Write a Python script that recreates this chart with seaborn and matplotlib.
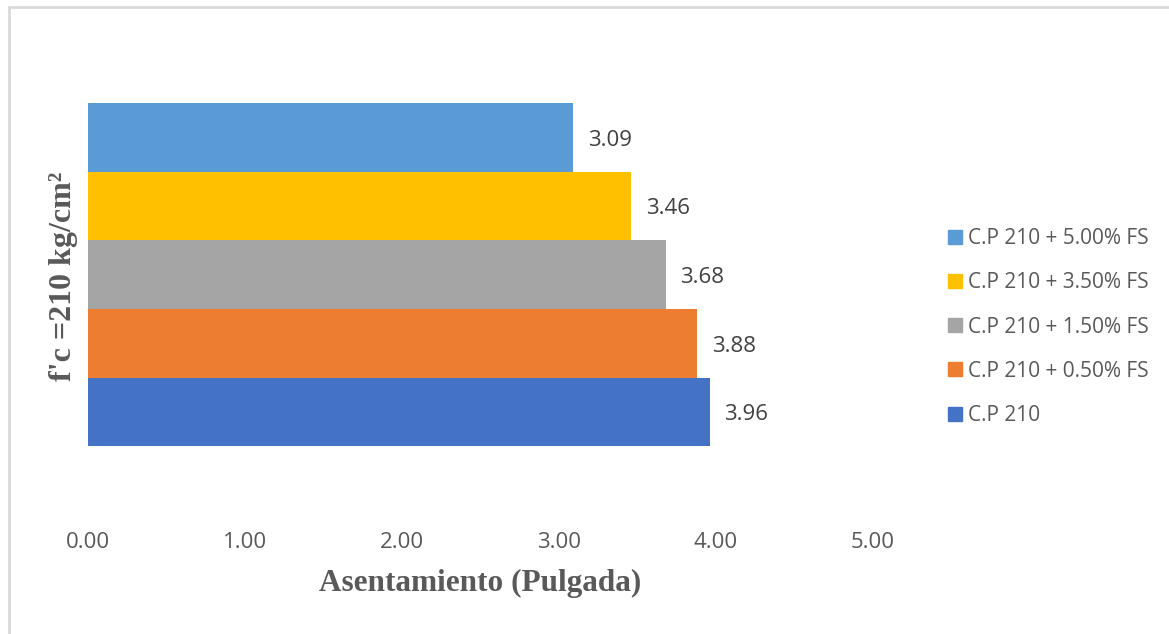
import matplotlib
matplotlib.use("Agg")
import matplotlib.pyplot as plt
from matplotlib.lines import Line2D
import pandas as pd
import seaborn as sns

# Slump results per mix (inches)
series = [
    "C.P 210 + 5.00% FS",
    "C.P 210 + 3.50% FS",
    "C.P 210 + 1.50% FS",
    "C.P 210 + 0.50% FS",
    "C.P 210",
]
values = [3.09, 3.46, 3.68, 3.88, 3.96]
colors = ["#5B9BD5", "#FFC000", "#A5A5A5", "#ED7D31", "#4472C4"]
category = "f'c =210 kg/cm²"
xticks = [0, 1, 2, 3, 4, 5]

df = pd.DataFrame({"grupo": [category] * len(series), "serie": series, "valor": values})

sns.set_theme(style="white")
plt.rcParams["font.family"] = ["Open Sans", "DejaVu Sans"]

W, H = 1169, 634
fig = plt.figure(figsize=(W / 100, H / 100), dpi=100)
fig.patch.set_facecolor("white")

# Axes placement in pixels
x0, x1 = 88, 873
y_top, y_bot = 40, 520
ax = fig.add_axes([x0 / W, 1 - y_bot / H, (x1 - x0) / W, (y_bot - y_top) / H])

sns.barplot(
    data=df, y="grupo", x="valor", hue="serie", hue_order=series,
    palette=colors, orient="h", width=0.8, saturation=1, linewidth=0,
    ax=ax, legend=False, errorbar=None,
)

ax.set_xlim(0, 5)
# Single category centred at 0; limits chosen so the bar group sits mid-plot
ax.set_ylim(0.572, -0.547)
ax.set_xticks(xticks)
ax.set_xticklabels([f"{t:.2f}" for t in xticks], fontsize=16, color="#595959")
ax.set_yticks([])
ax.tick_params(axis="x", length=0, pad=9)
for s in ax.spines.values():
    s.set_visible(False)

ax.set_xlabel("Asentamiento (Pulgada)", family="Liberation Serif", fontweight="bold",
              fontsize=22.5, color="#595959", labelpad=11)
ax.set_ylabel("")
fig.text(64 / W, 1 - 276 / H, category, rotation=90, ha="center", va="center",
         family="Liberation Serif", fontweight="bold", fontsize=23, color="#595959")

# Value labels next to each bar
for cont in ax.containers:
    anns = ax.bar_label(cont, labels=[f"{v:.2f}" for v in cont.datavalues],
                        padding=10.5, fontsize=16, color="#404040")
    for a in anns:
        a.xyann = (10.5, -2)

handles = [Line2D([0], [0], marker="s", linestyle="none", markersize=10.5,
                  markerfacecolor=c, markeredgecolor=c) for c in colors]
fig.legend(handles, series, loc="upper left", bbox_to_anchor=(935 / W, 1 - 220 / H),
           frameon=False, fontsize=15, labelcolor="#595959", handletextpad=0.1,
           labelspacing=1.11, borderaxespad=0, handlelength=1.1)

# Light frame along the top and left edges
fig.add_artist(Line2D([9 / W, 9 / W], [0, 1 - 7 / H], color="#D9D9D9", lw=2,
                      transform=fig.transFigure))
fig.add_artist(Line2D([9 / W, 1], [1 - 7 / H, 1 - 7 / H], color="#D9D9D9", lw=2,
                      transform=fig.transFigure))

fig.savefig("out.png", dpi=100)
